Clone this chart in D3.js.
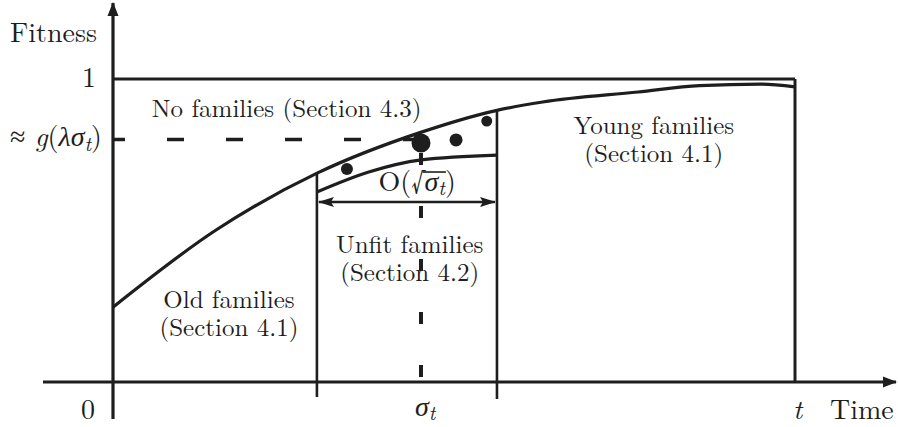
<!DOCTYPE html>
<html>
<head>
<meta charset="utf-8">
<script src="https://cdn.jsdelivr.net/npm/d3@7"></script>
<style>
  body { margin: 0; background: #fff; }
</style>
</head>
<body>
<svg id="chart"></svg>
<script>
// time runs 0..t (scaled to 0..1), fitness 0..1
var curveTime = [0, 0.15, 0.30, 0.45, 0.56, 0.63, 0.77, 0.86, 0.95, 1.0];
var curveFit  = [0.247, 0.50, 0.69, 0.823, 0.895, 0.924, 0.957, 0.978, 0.983, 0.974];

var lowerTime = [0.299, 0.375, 0.452, 0.563];
var lowerFit  = [0.627, 0.693, 0.733, 0.749];

var dotTime   = [0.343, 0.4516, 0.503, 0.548];
var dotFit    = [0.703, 0.789, 0.799, 0.861];
var dotWeight = [0.4, 1, 0.47, 0.33];

var oldEnd = 0.299;      // left edge of unfit region
var unfitEnd = 0.563;    // right edge of unfit region
var sigmaT = 0.4516;
var gLevel = 0.8;
var spreadFit = 0.594;   // height of the O(sqrt(sigma_t)) arrow

var regionLine1 = ["No families (Section 4.3)", "Young families", "Unfit families", "Old families"];
var regionLine2 = ["", "(Section 4.1)", "(Section 4.2)", "(Section 4.1)"];

window.onload = function() {
    'use strict';

    var width = 898, height = 427;
    var ink = '#1e1e1e';
    var face = "'Latin Modern Roman'";

    var svg = d3.select('#chart')
        .attr('width', width)
        .attr('height', height);

    var x = d3.scaleLinear().domain([0, 1]).range([113, 795]);
    var y = d3.scaleLinear().domain([0, 1]).range([382, 79]);

    var defs = svg.append('defs');
    defs.append('marker')
        .attr('id', 'head')
        .attr('viewBox', '0 -6 14 12')
        .attr('refX', 13).attr('refY', 0)
        .attr('markerUnits', 'userSpaceOnUse')
        .attr('markerWidth', 14).attr('markerHeight', 12)
        .attr('orient', 'auto-start-reverse')
        .append('path')
        .attr('d', 'M0,-5.5L14,0L0,5.5Z')
        .attr('fill', ink);
    defs.append('marker')
        .attr('id', 'small')
        .attr('viewBox', '0 -6 16 12')
        .attr('refX', 15).attr('refY', 0)
        .attr('markerUnits', 'userSpaceOnUse')
        .attr('markerWidth', 16).attr('markerHeight', 12)
        .attr('orient', 'auto-start-reverse')
        .append('path')
        .attr('d', 'M0,-5L16,0L0,5L3,0Z')
        .attr('fill', ink);

    function seg(x1, y1, x2, y2, w) {
        return svg.append('line')
            .attr('x1', x1).attr('y1', y1)
            .attr('x2', x2).attr('y2', y2)
            .attr('stroke', ink)
            .attr('stroke-width', w || 3);
    }

    function label(px, py, size, anchor) {
        return svg.append('text')
            .attr('x', px).attr('y', py)
            .style('font-family', face)
            .attr('font-size', size)
            .attr('fill', ink)
            .attr('text-anchor', anchor || 'start');
    }

    // axes
    seg(x(0) - 70, y(0), width - 2, y(0), 3.2).attr('marker-end', 'url(#head)');
    seg(x(0), y(0) + 37, x(0), 3, 3.2).attr('marker-end', 'url(#head)');

    // fitness = 1 line and the t boundary
    seg(x(0), y(1), x(1), y(1), 3);
    seg(x(1), y(1), x(1), y(0), 3);

    var curveAt = d3.scaleLinear().domain(curveTime).range(curveFit);

    // region boundaries
    seg(x(oldEnd), y(curveAt(oldEnd)) - 1, x(oldEnd), y(0) + 15, 2.6);
    seg(x(unfitEnd), y(curveAt(unfitEnd)) - 1, x(unfitEnd), y(0) + 17, 2.6);

    // fitness curves
    var line = d3.line()
        .x(function(d) { return x(d[0]); })
        .y(function(d) { return y(d[1]); })
        .curve(d3.curveMonotoneX);

    svg.append('path')
        .datum(d3.zip(curveTime, curveFit))
        .attr('d', line)
        .attr('fill', 'none')
        .attr('stroke', ink)
        .attr('stroke-width', 3.2);

    svg.append('path')
        .datum(d3.zip(lowerTime, lowerFit))
        .attr('d', line)
        .attr('fill', 'none')
        .attr('stroke', ink)
        .attr('stroke-width', 3.2);

    // dashed guides
    seg(x(0), y(gLevel), x(sigmaT) - 8, y(gLevel), 3.5)
        .attr('stroke-dasharray', '17,42')
        .attr('stroke-dashoffset', 5);
    seg(x(sigmaT), y(0.756), x(sigmaT), y(0.0165), 4)
        .attr('stroke-dasharray', '12,41');

    // spread arrow
    seg(x(oldEnd) + 2, y(spreadFit), x(unfitEnd) - 2, y(spreadFit), 2.6)
        .attr('marker-start', 'url(#small)')
        .attr('marker-end', 'url(#small)');

    // families
    var r = d3.scaleSqrt().domain([0, 1]).range([0, 9.5]);
    svg.selectAll('circle.dot')
        .data(d3.range(dotTime.length))
        .enter()
        .append('circle')
        .attr('class', 'dot')
        .attr('cx', function(i) { return x(dotTime[i]); })
        .attr('cy', function(i) { return y(dotFit[i]); })
        .attr('r', function(i) { return r(dotWeight[i]); })
        .attr('fill', ink);

    // region labels, one text per line
    var labelAt = [
        { t: 0.057, f: 0.875, anchor: 'start' },
        { t: 0.793, f: 0.818, anchor: 'middle' },
        { t: 0.435, f: 0.426, anchor: 'middle' },
        { t: 0.170, f: 0.244, anchor: 'middle' }
    ];
    regionLine1.forEach(function(txt, i) {
        var p = labelAt[i];
        label(x(p.t), y(p.f), 25, p.anchor).text(txt);
        if (regionLine2[i]) {
            label(x(p.t), y(p.f) + 28, 25, p.anchor).text(regionLine2[i]);
        }
    });

    // axis labels
    label(10, 42, 28).text('Fitness');
    label(x(0) - 17, y(1) + 8, 28, 'end').text('1');
    label(x(0) - 18, y(0) + 37, 28, 'end').text('0');

    var gl = label(10, y(gLevel) + 6, 28);
    gl.append('tspan').text('\u2248 ');
    gl.append('tspan').style('font-style', 'italic').text('g');
    gl.append('tspan').text('(');
    gl.append('tspan').style('font-style', 'italic').text('\u03bb\u03c3');
    gl.append('tspan').style('font-style', 'italic').attr('font-size', 20).attr('dy', 5).text('t');
    gl.append('tspan').attr('dy', -5).text(')');

    var sg = label(x(sigmaT) - 6, y(0) + 34, 28);
    sg.append('tspan').style('font-style', 'italic').text('\u03c3');
    sg.append('tspan').style('font-style', 'italic').attr('font-size', 20).attr('dy', 4).text('t');

    label(x(1) - 2, y(0) + 37, 28).style('font-style', 'italic').text('t');
    label(x(1) + 35, y(0) + 37, 28).text('Time');

    // O(sqrt(sigma_t)) label
    var ol = label(x(0.446), y(spreadFit) - 11, 28, 'middle');
    ol.append('tspan').text('O');
    ol.append('tspan').text('(\u221a');
    ol.append('tspan').style('font-style', 'italic').text('\u03c3');
    ol.append('tspan').style('font-style', 'italic').attr('font-size', 20).attr('dy', 4).text('t');
    ol.append('tspan').attr('dy', -4).text(')');

    var node = ol.node();
    var barStart = node.getStartPositionOfChar(3).x - 2;
    var barEnd = node.getEndPositionOfChar(4).x + 1;
    seg(barStart, y(spreadFit) - 30, barEnd, y(spreadFit) - 30, 1.6);
};
</script>
</body>
</html>
